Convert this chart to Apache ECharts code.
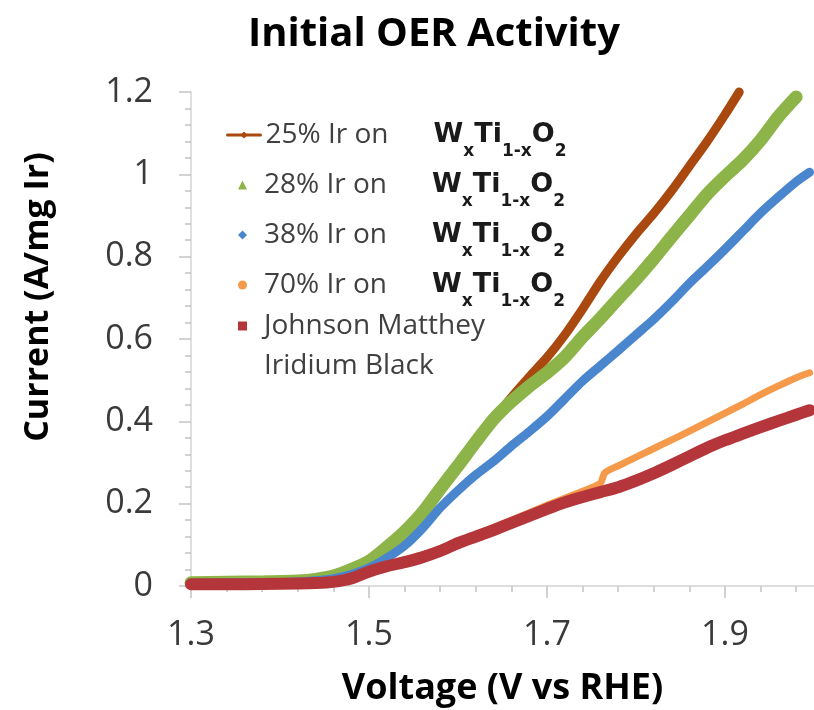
<!DOCTYPE html>
<html>
<head>
<meta charset="utf-8">
<script src="https://cdn.jsdelivr.net/npm/echarts@6.0.0/dist/echarts.min.js"></script>
<style>html,body{margin:0;padding:0;background:#fff;}#c{width:814px;height:710px;}</style>
</head>
<body>
<div id="c"></div>
<script>
// ---- Data ----
const seriesNames = ['25% Ir on', '28% Ir on', '38% Ir on', '70% Ir on', 'Johnson Matthey\nIridium Black'];

const v25 = [1.30,1.34,1.38,1.42,1.44,1.46,1.48,1.50,1.52,1.54,1.56,1.58,1.60,1.62,1.64,1.66,1.68,1.70,1.72,1.74,1.76,1.78,1.80,1.82,1.84,1.86,1.88,1.90,1.916];
const i25 = [0.006,0.007,0.008,0.010,0.013,0.020,0.034,0.056,0.088,0.128,0.176,0.232,0.288,0.346,0.405,0.458,0.508,0.555,0.610,0.673,0.740,0.800,0.855,0.905,0.960,1.020,1.080,1.145,1.200];

const v28 = [1.30,1.34,1.38,1.42,1.44,1.46,1.48,1.50,1.52,1.54,1.56,1.58,1.60,1.62,1.64,1.66,1.68,1.70,1.72,1.74,1.76,1.78,1.80,1.82,1.84,1.86,1.88,1.90,1.92,1.94,1.96,1.98];
const i28 = [0.008,0.009,0.010,0.012,0.016,0.024,0.040,0.060,0.094,0.132,0.178,0.236,0.292,0.350,0.405,0.448,0.485,0.518,0.556,0.605,0.650,0.698,0.745,0.795,0.848,0.900,0.952,0.995,1.035,1.083,1.140,1.188];

const v38 = [1.30,1.34,1.38,1.42,1.44,1.46,1.48,1.50,1.52,1.54,1.56,1.58,1.60,1.62,1.64,1.66,1.68,1.70,1.72,1.74,1.76,1.78,1.80,1.82,1.84,1.86,1.88,1.90,1.92,1.94,1.96,1.98,1.995];
const i38 = [0.006,0.007,0.008,0.010,0.013,0.018,0.028,0.044,0.068,0.098,0.140,0.190,0.232,0.270,0.303,0.340,0.375,0.412,0.455,0.498,0.535,0.572,0.610,0.648,0.690,0.735,0.776,0.818,0.862,0.906,0.945,0.982,1.005];

const v70 = [1.30,1.34,1.38,1.42,1.44,1.46,1.48,1.50,1.52,1.54,1.56,1.58,1.60,1.62,1.64,1.66,1.68,1.70,1.72,1.74,1.76,1.765,1.78,1.80,1.82,1.84,1.86,1.88,1.90,1.92,1.94,1.96,1.98,1.995];
const i70 = [0.004,0.005,0.006,0.007,0.008,0.012,0.020,0.036,0.050,0.060,0.073,0.089,0.108,0.125,0.142,0.160,0.178,0.196,0.213,0.230,0.250,0.275,0.292,0.313,0.334,0.355,0.376,0.398,0.420,0.442,0.465,0.486,0.506,0.518];

const vJM = [1.30,1.34,1.38,1.42,1.44,1.46,1.48,1.50,1.52,1.54,1.56,1.58,1.60,1.62,1.64,1.66,1.68,1.70,1.72,1.74,1.76,1.78,1.80,1.82,1.84,1.86,1.88,1.90,1.92,1.94,1.96,1.98,1.995];
const iJM = [0.004,0.004,0.005,0.006,0.007,0.010,0.018,0.035,0.048,0.058,0.070,0.085,0.104,0.120,0.136,0.153,0.170,0.187,0.203,0.216,0.228,0.240,0.256,0.274,0.294,0.315,0.336,0.354,0.370,0.386,0.401,0.416,0.427];

const xLabelValues = [1.3, 1.5, 1.7, 1.9];
const xMinorTickValues = [1.30,1.34,1.38,1.42,1.46,1.50,1.54,1.58,1.62,1.66,1.70,1.74,1.78,1.82,1.86,1.90,1.94,1.98];

// ---- Chart ----
const colors = ['#A9490F', '#8DB449', '#4A86CE', '#F59A4A', '#B5363A'];
const widths = [9, 13, 9, 7, 12];
const vals = [[v25, i25], [v28, i28], [v38, i38], [v70, i70], [vJM, iJM]];

const chart = echarts.init(document.getElementById('c'), null, {renderer: 'canvas'});
const FONT = 'Open Sans';
const FFONT = 'DejaVu Sans';

const formulaRich = '{b|W}{s|x}{b|Ti}{s|1-x}{b|O}{s|2}';
const richStyles = {
  p: {fontFamily: FONT, fontSize: 28, width: 12, lineHeight: 50},
  t: {fontFamily: FONT, fontSize: 28, color: '#404040', width: 168, lineHeight: 50},
  b: {fontFamily: FFONT, fontSize: 27, fontWeight: 'bold', color: '#1a1a1a', lineHeight: 50},
  s: {fontFamily: FFONT, fontSize: 17, fontWeight: 'bold', color: '#1a1a1a', lineHeight: 42, verticalAlign: 'bottom'},
  a: {fontFamily: FONT, fontSize: 28, color: '#404040', lineHeight: 40},
  q: {fontFamily: FONT, fontSize: 28, width: 12, lineHeight: 40}
};

const series = seriesNames.map((name, k) => ({
  name: name,
  type: 'line',
  data: vals[k][0].map((v, j) => [v, vals[k][1][j]]),
  symbol: k === 0 ? 'diamond' : 'none',
  showSymbol: false,
  smooth: 0.25,
  clip: false,
  color: colors[k],
  lineStyle: {width: widths[k], color: colors[k], cap: 'round', join: 'round'},
  emphasis: {disabled: true},
  z: 2 + k
}));

const legendBase = {
  orient: 'vertical',
  padding: 0,
  itemGap: 11,
  itemHeight: 9,
  selectedMode: false,
  itemStyle: {borderWidth: 0},
  textStyle: {fontFamily: FONT, fontSize: 28, color: '#404040', rich: richStyles}
};

const option = {
  animation: false,
  backgroundColor: '#fff',
  title: {
    text: 'Initial OER Activity',
    left: 243,
    top: 10,
    textStyle: {fontFamily: FONT, fontSize: 40, fontWeight: 'bold', color: '#000'}
  },
  grid: {left: 191, right: 0, top: 92, bottom: 124, outerBoundsMode: 'none', containLabel: false},
  legend: [
    Object.assign({}, legendBase, {
      data: [{name: seriesNames[0]}],
      left: 226, top: 121, itemWidth: 33,
      lineStyle: {width: 3},
      formatter: function (name) { return '{t|' + name + '}' + formulaRich; }
    }),
    Object.assign({}, legendBase, {
      data: [
        {name: seriesNames[1], icon: 'triangle'},
        {name: seriesNames[2], icon: 'diamond'},
        {name: seriesNames[3], icon: 'circle'}
      ],
      left: 238, top: 171, itemWidth: 9,
      formatter: function (name) { return '{p| }{t|' + name + '}' + formulaRich; }
    }),
    Object.assign({}, legendBase, {
      data: [{name: seriesNames[4], icon: 'rect'}],
      left: 238, top: 272, itemWidth: 9,
      formatter: function (name) {
        return '{q| }\n' + name.split('\n').map(s => '{q| }{a|' + s + '}').join('\n');
      }
    })
  ],
  xAxis: [{
    type: 'value',
    min: 1.3,
    max: 2.0,
    position: 'bottom',
    name: 'Voltage (V vs RHE)',
    nameLocation: 'middle',
    nameGap: 85,
    nameTextStyle: {fontFamily: FONT, fontSize: 36, fontWeight: 'bold', color: '#000'},
    axisLine: {show: true, onZero: false, lineStyle: {color: '#d4d4d4', width: 1.5}},
    axisTick: {show: true, customValues: xLabelValues, length: 12, lineStyle: {color: '#c4c4c4', width: 1.5}},
    axisLabel: {customValues: xLabelValues, margin: 32, fontFamily: FONT, fontSize: 34, color: '#3a3a3a',
      formatter: function (v) { return v.toFixed(1); }},
    splitLine: {show: false}
  }, {
    type: 'value',
    min: 1.3,
    max: 2.0,
    position: 'bottom',
    axisLine: {show: false},
    axisTick: {show: true, customValues: xMinorTickValues, length: 6, lineStyle: {color: '#c4c4c4', width: 1.5}},
    axisLabel: {show: false},
    splitLine: {show: false}
  }],
  yAxis: {
    type: 'value',
    min: 0,
    max: 1.2,
    interval: 0.2,
    name: 'Current (A/mg Ir)',
    nameLocation: 'middle',
    nameRotate: 90,
    nameGap: 136,
    nameTextStyle: {fontFamily: FONT, fontSize: 34, fontWeight: 'bold', color: '#000', padding: [0, 0, 0, 84]},
    axisLine: {show: true, onZero: false, lineStyle: {color: '#d4d4d4', width: 1.5}},
    axisTick: {show: true, length: 12, lineStyle: {color: '#c4c4c4', width: 1.5}},
    minorTick: {show: true, splitNumber: 5, length: 6, lineStyle: {color: '#c4c4c4', width: 1.5}},
    axisLabel: {margin: 38, fontFamily: FONT, fontSize: 34, color: '#3a3a3a'},
    splitLine: {show: false},
    minorSplitLine: {show: false}
  },
  series: series
};
chart.setOption(option);
</script>
</body>
</html>
